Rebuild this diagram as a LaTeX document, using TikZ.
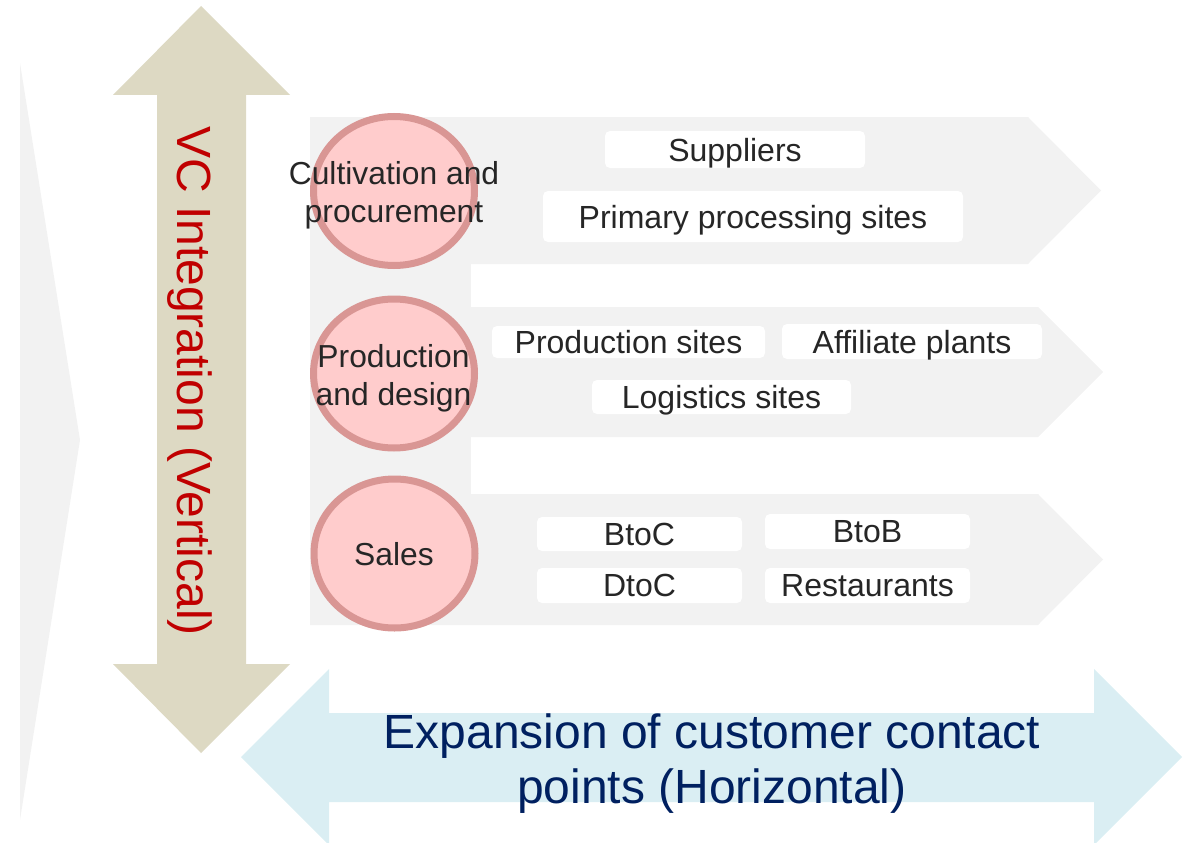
\documentclass[tikz,border=0pt]{standalone}
\usepackage{fontspec}
\setmainfont{Liberation Sans}
\usetikzlibrary{shapes.geometric}
\definecolor{bgray}{HTML}{F2F2F2}
\definecolor{vtan}{HTML}{DDD9C3}
\definecolor{lblue}{HTML}{DAEEF3}
\definecolor{cfill}{HTML}{FFCCCC}
\definecolor{cborder}{HTML}{D99694}
\definecolor{txtc}{HTML}{262626}
\definecolor{vred}{HTML}{C00000}
\definecolor{dblue}{HTML}{002060}
\tikzset{
  stage/.style={ellipse, draw=cborder, fill=cfill, line width=7pt,
    minimum width=161pt, minimum height=149pt, inner sep=0pt},
  stagetext/.style={text=txtc, align=center, inner sep=0pt,
    font=\fontsize{31.8}{38.3}\selectfont},
  site/.style={fill=white, rounded corners=5pt, inner sep=0pt, text=txtc,
    text depth=0pt, font=\fontsize{32}{38}\selectfont},
  bigtext/.style={font=\fontsize{48}{55}\selectfont, inner sep=0pt}
}
\begin{document}
\begin{tikzpicture}[x=1pt,y=-1pt]
\useasboundingbox (0,0) rectangle (1184,843);
% faint left chevron
\fill[bgray] (20,63) -- (80,440) -- (20,820) -- cycle;
% vertical double arrow
\fill[vtan] (201,6) -- (290,95) -- (246,95) -- (246,664) -- (290,664) -- (201,753)
  -- (113,664) -- (157,664) -- (157,95) -- (113,95) -- cycle;
% horizontal double arrow
\fill[lblue] (241,757) -- (329,669) -- (329,713) -- (1094,713) -- (1094,669)
  -- (1182,757) -- (1094,845) -- (1094,802) -- (329,802) -- (329,845) -- cycle;
% gray stage bands
\fill[bgray] (310,117) rectangle (471,625);
\fill[bgray] (310,117) -- (1028,117) -- (1101,190.5) -- (1028,264) -- (310,264) -- cycle;
\fill[bgray] (310,307) -- (1038,307) -- (1103,372) -- (1038,437) -- (310,437) -- cycle;
\fill[bgray] (310,494) -- (1038,494) -- (1103,559.5) -- (1038,625) -- (310,625) -- cycle;
% stage circles
\node[stage] (c1) at (394,191) {};
\node[stage] (c2) at (394,373.5) {};
\node[stage] (c3) at (394.5,553.5) {};
\node[stagetext] (t1) at (394,195.5) {Cultivation and\\procurement};
\node[stagetext] (t2) at (393.5,378) {Production\\and design};
\node[stagetext] (t3) at (394,554.5) {Sales};
% site boxes
\node[site, minimum width=260pt, minimum height=37pt] (sup) at (735,149.5) {Suppliers};
\node[site, minimum width=420pt, minimum height=51pt] (pps) at (753,216.5) {Primary processing sites};
\node[site, minimum width=273pt, minimum height=32pt] (prs) at (628.5,342) {Production sites};
\node[site, minimum width=260pt, minimum height=35pt] (aff) at (912,341.5) {Affiliate plants};
\node[site, minimum width=259pt, minimum height=34pt] (log) at (721.5,397) {Logistics sites};
\node[site, minimum width=205pt, minimum height=34pt] (btoc) at (639.5,534) {BtoC};
\node[site, minimum width=205pt, minimum height=35pt] (btob) at (867.5,531.5) {BtoB};
\node[site, minimum width=205pt, minimum height=35pt] (dtoc) at (639.5,585.5) {DtoC};
\node[site, minimum width=205pt, minimum height=35pt] (rest) at (867.5,585.5) {Restaurants};
% arrow labels
\node[bigtext, text=vred, rotate=-90, anchor=base] (vtext) at (177,381) {VC Integration (Vertical)};
\node[bigtext, text=dblue, align=center] (htext) at (712,764) {Expansion of customer contact\\points (Horizontal)};
\end{tikzpicture}
\end{document}
